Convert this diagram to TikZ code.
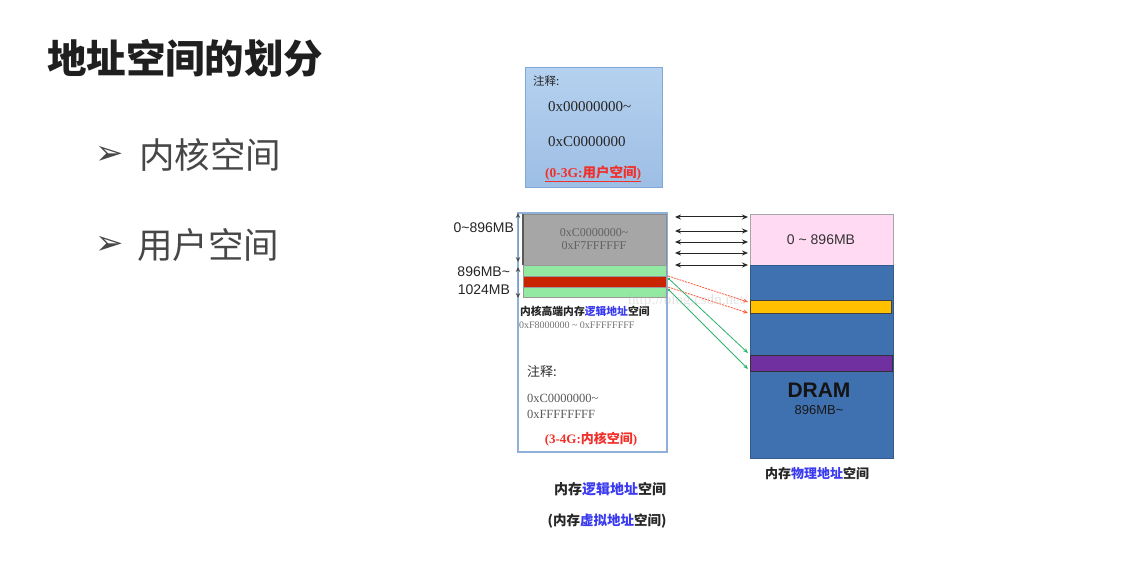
\documentclass[tikz,border=0pt]{standalone}
\usepackage{fontspec}
\setmainfont{Liberation Serif}
\setsansfont{Liberation Sans}
\newfontfamily\cjk{Noto Sans CJK SC}
\newfontfamily\dejavu{DejaVu Sans}
\usetikzlibrary{arrows.meta,calc}
\definecolor{ublueA}{HTML}{B5D1EF}
\definecolor{ublueB}{HTML}{9DBEE4}
\definecolor{uborder}{HTML}{7FA8D6}
\definecolor{kborder}{HTML}{8FB0D8}
\definecolor{grayfill}{HTML}{A6A6A6}
\definecolor{greenfill}{HTML}{93E9A2}
\definecolor{redfill}{HTML}{C82400}
\definecolor{pinkfill}{HTML}{FFDAF2}
\definecolor{dramblue}{HTML}{3F70B0}
\definecolor{orangefill}{HTML}{FFC000}
\definecolor{purplefill}{HTML}{7030A0}
\definecolor{redtxt}{HTML}{F0302A}
\definecolor{bluetxt}{HTML}{3A3AF0}
\definecolor{dashred}{HTML}{FF5A3C}
\definecolor{linkgreen}{HTML}{2DB36B}
\definecolor{vblue}{HTML}{7C9CC8}
\tikzset{
  txt/.style={inner sep=0pt, outer sep=0pt},
  band/.style={rectangle, inner sep=0pt, outer sep=0pt, anchor=north west, line width=0.6pt},
  dbl/.style={{Stealth[length=6pt,width=5pt]}-{Stealth[length=6pt,width=5pt]}, line width=1pt, black!85},
  vdbl/.style={{Stealth[length=5pt,width=4.5pt,color=black!70]}-{Stealth[length=5pt,width=4.5pt,color=black!70]}, line width=1pt, vblue},
  redlink/.style={-{Stealth[length=5pt,width=4pt]}, dashed, dash pattern=on 2pt off 1pt, line width=0.8pt, dashred},
  greenlink/.style={{Circle[length=2.5pt]}-{Stealth[length=5pt,width=4pt]}, line width=0.8pt, linkgreen},
}
\begin{document}
\begin{tikzpicture}[x=1pt,y=-1pt]
\useasboundingbox[fill=white] (0,0) rectangle (1128,575);

% title and bullets
\node[txt, anchor=west, font=\cjk\bfseries\fontsize{39.5}{39.5}\selectfont, text=black!88] (title) at (47,58) {地址空间的划分};
\node[txt, anchor=west, font=\dejavu\fontsize{34}{34}\selectfont, text=black!72] (bul1) at (95,155) {➢};
\node[txt, anchor=west, font=\cjk\fontsize{35.5}{35.5}\selectfont, text=black!72] (item1) at (139,155) {内核空间};
\node[txt, anchor=west, font=\dejavu\fontsize{34}{34}\selectfont, text=black!72] (bul2) at (95,245) {➢};
\node[txt, anchor=west, font=\cjk\fontsize{35.5}{35.5}\selectfont, text=black!72] (item2) at (137,245) {用户空间};

% user space box
\node[band, minimum width=137pt, minimum height=120pt, top color=ublueA, bottom color=ublueB, draw=uborder, line width=1pt] (ubox) at (525,68) {};
\node[txt, anchor=west, font=\cjk\fontsize{11.5}{11.5}\selectfont, text=black!85] (unote) at (533,81) {注释:};
\node[txt, anchor=west, font=\fontsize{15}{15}\selectfont, text=black!85] (uaddr1) at (548,107) {0x00000000\char`~};
\node[txt, anchor=west, font=\fontsize{15}{15}\selectfont, text=black!85] (uaddr2) at (548,142) {0xC0000000};
\node[txt, font=\fontsize{13.5}{13.5}\selectfont, text=redtxt] (ulabel) at (593,174) {\underline{\textbf{(0-3G:}{\cjk\bfseries 用户空间}\textbf{)}}};

% kernel logical address box
\node[band, minimum width=149pt, minimum height=239pt, fill=white, draw=kborder, line width=1.2pt] (kbox) at (518,213) {};
\node[band, minimum width=143pt, minimum height=51pt, fill=grayfill, draw=black!45] (gray) at (523,214) {};
\draw[black!65, line width=1.2pt] (gray.north west) -- (gray.south west);
\node[band, minimum width=143pt, minimum height=11pt, fill=greenfill, draw=black!40] (green1) at (523,265) {};
\node[band, minimum width=143pt, minimum height=11pt, fill=redfill, draw=black!40] (red) at (523,276) {};
\node[band, minimum width=143pt, minimum height=10pt, fill=greenfill, draw=black!40] (green2) at (523,287) {};
\node[txt, font=\fontsize{12}{12}\selectfont, text=black!62] (gaddr1) at (594,233) {0xC0000000\char`~};
\node[txt, font=\fontsize{12}{12}\selectfont, text=black!62] (gaddr2) at (594,246) {0xF7FFFFFF};

% side labels
\node[txt, anchor=east, font=\sffamily\fontsize{14}{14}\selectfont, text=black!85] (lab1) at (514,228) {0\char`~896MB};
\node[txt, anchor=east, font=\sffamily\fontsize{14}{14}\selectfont, text=black!85] (lab2) at (510,272) {896MB\char`~};
\node[txt, anchor=east, font=\sffamily\fontsize{14}{14}\selectfont, text=black!85] (lab3) at (510,290) {1024MB};

% vertical size arrows
\coordinate (va1) at (518,213);
\coordinate (va2) at (518,262);
\coordinate (va3) at (518,267);
\coordinate (va4) at (518,298);
\draw[vdbl] (va1) -- (va2);
\draw[vdbl] (va3) -- (va4);

% texts in kernel box
\node[txt, anchor=west, font=\cjk\bfseries\fontsize{10.8}{11}\selectfont, text=black!85] (hightxt) at (520,311) {内核高端内存\textcolor{bluetxt}{逻辑地址}空间};
\node[txt, anchor=west, font=\fontsize{10}{10}\selectfont, text=black!55] (highaddr) at (519,325) {0xF8000000 \char`~\ 0xFFFFFFFF};
\node[txt, anchor=west, font=\cjk\fontsize{13}{13}\selectfont, text=black!80] (knote) at (527,372) {注释:};
\node[txt, anchor=west, font=\fontsize{12.5}{12.5}\selectfont, text=black!65] (kaddr1) at (527,398) {0xC0000000\char`~};
\node[txt, anchor=west, font=\fontsize{12.5}{12.5}\selectfont, text=black!65] (kaddr2) at (527,414) {0xFFFFFFFF};
\node[txt, font=\fontsize{13}{13}\selectfont, text=redtxt] (klabel) at (591,439) {\textbf{(3-4G:}{\cjk\bfseries 内核空间}\textbf{)}};

% physical memory
\node[band, minimum width=143pt, minimum height=51pt, fill=pinkfill, draw=black!35] (pink) at (750,214) {};
\node[band, minimum width=143pt, minimum height=193pt, fill=dramblue, draw=dramblue!80!black] (dram) at (750,265) {};
\node[band, minimum width=141pt, minimum height=13pt, fill=orangefill, draw=black!75, line width=1pt] (orange) at (750,300) {};
\node[band, minimum width=142pt, minimum height=16pt, fill=purplefill, draw=black!80, line width=1pt] (purple) at (750,355) {};
\node[txt, font=\sffamily\fontsize{14}{14}\selectfont, text=black!80] (pinktxt) at (821,240) {0 \char`~\ 896MB};
\node[txt, font=\sffamily\bfseries\fontsize{21}{21}\selectfont, text=black!92] (dramtxt) at (819,390) {DRAM};
\node[txt, font=\sffamily\fontsize{13}{13}\selectfont, text=black!90] (dramsize) at (819,410) {896MB\char`~};

% captions
\node[txt, font=\cjk\bfseries\fontsize{13}{13}\selectfont, text=black!85] (physcap) at (817,473) {内存\textcolor{bluetxt}{物理地址}空间};
\node[txt, font=\cjk\bfseries\fontsize{14}{14}\selectfont, text=black!85] (logcap) at (610,489) {内存\textcolor{bluetxt}{逻辑地址}空间};
\node[txt, font=\cjk\bfseries\fontsize{13.5}{13.5}\selectfont, text=black!85] (virtcap) at (607,521) {(内存\textcolor{bluetxt}{虚拟地址}空间)};

% direct-mapping arrows
\foreach \i/\yy in {1/217,2/231,3/242,4/253,5/265}{
  \coordinate (la\i) at (675,\yy);
  \coordinate (ra\i) at (748,\yy);
  \draw[dbl] (la\i) -- (ra\i);
}

% high memory links
\coordinate (rs1) at (668,276);
\coordinate (rs2) at (668,287);
\coordinate (re1) at (748,302);
\coordinate (re2) at (748,313);
\draw[redlink] (rs1) -- (re1);
\draw[redlink] (rs2) -- (re2);
\coordinate (gs1) at (668,278);
\coordinate (gs2) at (668,289);
\coordinate (ge1) at (748,353);
\coordinate (ge2) at (748,369);
\draw[greenlink] (gs1) -- (ge1);
\draw[greenlink] (gs2) -- (ge2);

% watermark
\node[txt, font=\fontsize{15}{15}\selectfont, text=black!30, opacity=0.35] (wm) at (688,301) {http://blog.csdn.net/};
\end{tikzpicture}
\end{document}
